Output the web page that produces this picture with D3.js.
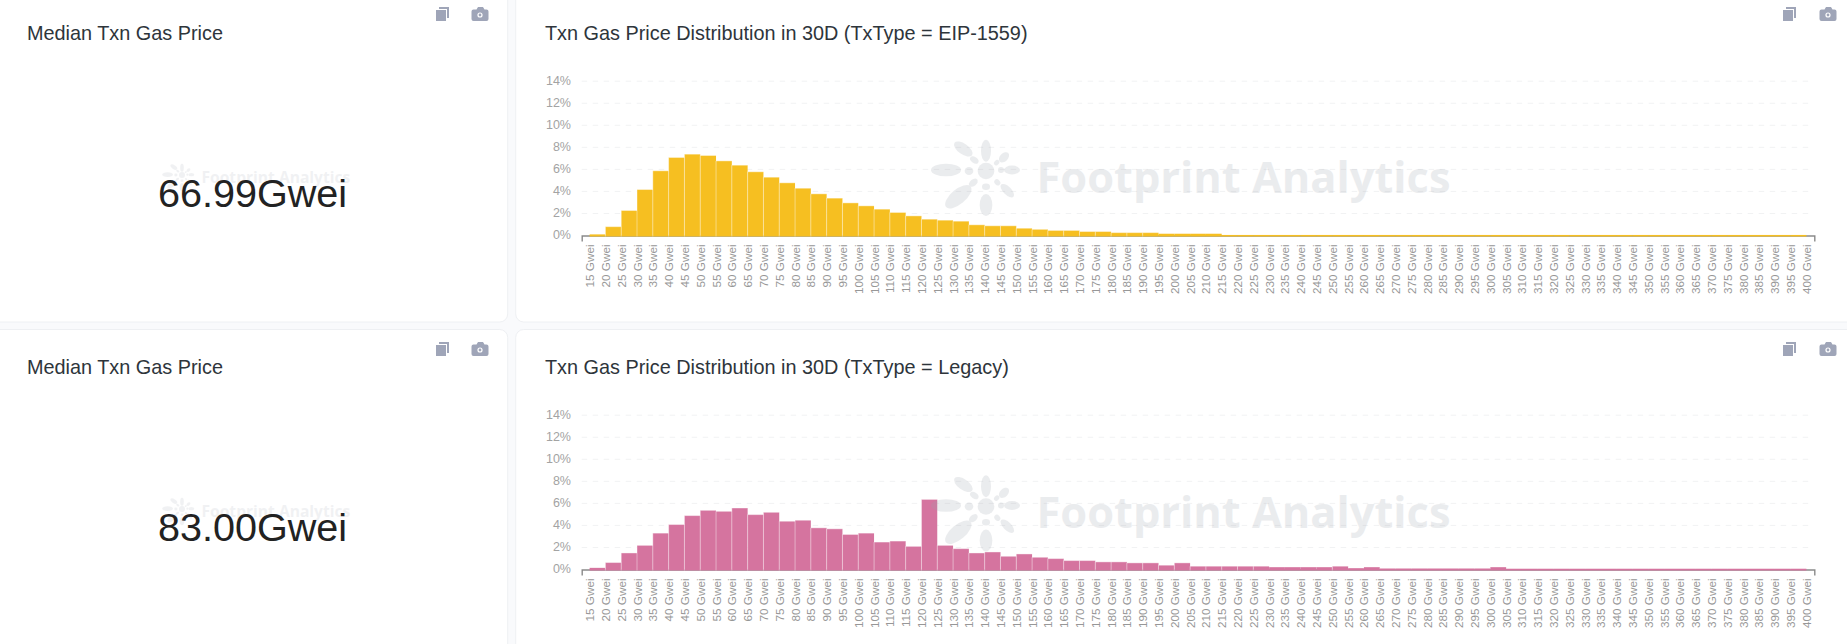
<!DOCTYPE html>
<html>
<head>
<meta charset="utf-8">
<script src="https://cdn.jsdelivr.net/npm/d3@7/dist/d3.min.js"></script>
<style>
html,body{margin:0;padding:0;background:#f9fafc;overflow:hidden}
svg{display:block}
text{font-family:"Liberation Sans",Arial,sans-serif}
</style>
</head>
<body>
<svg id="c" width="1847" height="644"></svg>
<script>
const categories = d3.range(15, 401, 5).map(v => v + " Gwei");
const yTicks = [0, 2, 4, 6, 8, 10, 12, 14];
const eipValues = [0.1,0.8,2.27,4.17,5.87,7.08,7.38,7.26,6.77,6.38,5.78,5.29,4.78,4.29,3.78,3.39,2.96,2.69,2.39,2.09,1.78,1.48,1.39,1.3,0.97,0.88,0.88,
  0.66,0.56,0.46,0.46,0.36,0.36,0.26,0.26,0.26,0.16,0.16,0.16,0.16,
  0.05,0.05,0.05,0.05,0.05,0.05,0.05,0.05,0.05,0.05,0.05,0.05,0.05,0.05,0.05,0.05,0.05,0.05,0.05,0.05,0.05,0.05,0.05,0.05,0.05,0.05,0.05,0.05,0.05,0.05,0.05,0.05,0.05,0.05,0.05,0.05,0.05];
const legacyValues = [0.15,0.63,1.5,2.19,3.3,4.08,4.89,5.37,5.28,5.58,4.98,5.19,4.38,4.47,3.78,3.69,3.18,3.3,2.49,2.58,2.1,6.36,2.19,1.89,1.5,1.59,1.2,
  1.41,1.11,0.99,0.81,0.81,0.69,0.69,0.6,0.6,0.39,0.6,0.3,0.3,0.3,0.3,0.3,0.21,0.21,0.21,0.21,0.3,0.12,0.21,0.09,
  0.09,0.09,0.09,0.09,0.09,0.09,0.21,0.07,0.07,0.07,0.07,0.07,0.07,0.07,0.07,0.07,0.07,0.07,0.07,0.07,0.07,0.07,0.07,0.07,0.07,0.07];
const rows = [
  {dy:0,  median:"66.99Gwei", title:"Txn Gas Price Distribution in 30D (TxType = EIP-1559)", values:eipValues, color:"#f6bf21"},
  {dy:334,median:"83.00Gwei", title:"Txn Gas Price Distribution in 30D (TxType = Legacy)", values:legacyValues, color:"#d5749f"}
];
const leftTitle = "Median Txn Gas Price";
const watermark = "Footprint Analytics";

const svg = d3.select("#c");
const x = d3.scaleBand().domain(categories).range([581.7, 1814.3]).padding(0);

const icon = (g, cx, y) => {
  g.append("path").attr("fill","#9fa5b8")
   .attr("d",`M${cx} ${y+3}h10v11h-10z M${cx+3} ${y}h10v11h-2v-9h-8z`);
};
const cam = (g, x0, y) => {
  g.append("path").attr("fill","#9fa5b8")
   .attr("d",`M${x0+2} ${y+2.5}h3l1.5-2.5h5l1.5 2.5h2a2 2 0 0 1 2 2v7.5a2 2 0 0 1-2 2h-13a2 2 0 0 1-2-2v-7.5a2 2 0 0 1 2-2z`);
  g.append("circle").attr("cx",x0+8.5).attr("cy",y+8).attr("r",2).attr("fill","none").attr("stroke","#fff").attr("stroke-width",1.2);
};
const petals = [
  [-40,-1,15,6.3,0],[-22.7,-22,10.7,5.3,35],[0,-20.3,5,11,0],[18,-13.7,6,4,-45],
  [26,-1,8,4.4,0],[15,-1,3,3,0],[21.3,19.7,8.7,4,45],[0,34,6.3,11,0],[-27.7,25.7,16,7.3,-40],
  [-11.7,-11,4.7,3,35],[0,-13.7,3.3,2.3,0],[10.7,-8.3,3,2.3,-45],[-17,0,4.3,4,0],[-12.7,11.7,5,3.3,-40],[0,15.7,4,3.3,0],[11.3,11.3,3.3,2.7,45],[0,0,8.3,8.3,0]
];
const drawWm = (g, cx, cy, tx, base, fs, s, op) => {
  const w = g.append("g").attr("opacity",op).attr("fill","#9ca3ac");
  const l = w.append("g").attr("transform",`translate(${cx},${cy}) scale(${s})`);
  petals.forEach(p => l.append("ellipse").attr("rx",p[2]).attr("ry",p[3])
    .attr("transform",`translate(${p[0]},${p[1]}) rotate(${p[4]})`));
  w.append("text").attr("x",tx).attr("y",base).text(watermark)
    .attr("font-size",fs).attr("font-weight",700)
    .style("font-family","'Open Sans',sans-serif");
};

rows.forEach(r => {
  const g = svg.append("g");
  const dy = r.dy;
  const top = dy === 0 ? -20 : 329.5;
  const h = dy === 0 ? 342 : 340;
  g.append("rect").attr("x",-10).attr("y",top).attr("width",517.7).attr("height",h).attr("rx",8)
    .attr("fill","#fff").attr("stroke","#eef0f3");
  g.append("rect").attr("x",515.7).attr("y",top).attr("width",1345).attr("height",h).attr("rx",8)
    .attr("fill","#fff").attr("stroke","#eef0f3");

  g.append("text").attr("x",27).attr("y",40+dy).text(leftTitle).attr("font-size",19.85).attr("fill","#2e353b");
  g.append("text").attr("x",545).attr("y",40+dy).text(r.title).attr("font-size",19.85).attr("fill","#2e353b");

  drawWm(g, 182, 175+dy, 201.5, 182.5+dy, 15.6, 0.36, 0.14);
  g.append("text").attr("x",252.5).attr("y",207+dy).attr("text-anchor","middle").text(r.median)
    .attr("font-size",39.6).attr("fill","#222");

  const y = d3.scaleLinear().domain([0,14]).range([235.5+dy, 81.2+dy]);

  g.append("g").selectAll("line").data(yTicks.filter(d=>d>0)).join("line")
    .attr("x1",581.7).attr("x2",1809).attr("y1",d=>y(d)).attr("y2",d=>y(d))
    .attr("stroke","#f1f2f3").attr("stroke-dasharray","5.5,5.5");

  const ya = g.append("g").attr("transform","translate(571,0)")
    .call(d3.axisLeft(y).tickValues(yTicks).tickFormat(d=>d+"%").tickSize(0).tickPadding(0));
  ya.select(".domain").remove();
  ya.selectAll("text").attr("font-size",12.5).attr("fill","#a3a3a3")
    .attr("dy",".24em").style("font-family","'Liberation Sans',Arial,sans-serif");

  // x axis goes under the bars
  const xa = g.append("g").attr("transform",`translate(0,${y(0)})`)
    .call(d3.axisBottom(x).tickSize(0).tickSizeOuter(6).tickPadding(0));
  xa.select(".domain").attr("stroke","#8a8a8a").attr("stroke-width",1.4).attr("fill","none");
  xa.selectAll(".tick text")
    .attr("font-size",11.7).attr("fill","#979797")
    .style("font-family","'Liberation Sans',Arial,sans-serif")
    .attr("text-anchor","end").attr("dominant-baseline","central")
    .attr("dy",0).attr("x",-9).attr("y",0)
    .attr("transform","rotate(-90)");

  // each bar starts at its label's tick, as in a histogram
  const base = y(0) + 1;
  const bars = g.append("g");
  bars.selectAll("rect.b").data(r.values).join("rect").attr("class","b")
    .attr("x",(d,i)=>x(categories[i])+x.bandwidth()/2)
    .attr("width",x.bandwidth())
    .attr("y",d=>y(d))
    .attr("height",d=>base-y(d))
    .attr("fill",r.color);
  // pale edge on the sides and top of each bar that is tall enough to show one
  bars.selectAll("path.e").data(r.values.map((v,i)=>({v,i})).filter(d=>d.v>0.25)).join("path").attr("class","e")
    .attr("d",d=>{
      const x0 = x(categories[d.i])+x.bandwidth()/2;
      return `M${x0} ${base}V${y(d.v)}H${x0+x.bandwidth()}`;
    })
    .attr("fill","none").attr("stroke","rgba(255,255,255,.4)").attr("stroke-width",1);

  drawWm(g, 986, 171+dy+(dy?1.5:0), 1036.5, 192.7+dy+(dy?1:0), 43.4, 1, 0.2);

  icon(g, 436, 7+dy+(dy?1:0)); cam(g, 471.5, 7+dy+(dy?1:0));
  icon(g, 1783, 7+dy+(dy?1:0)); cam(g, 1819.5, 7+dy+(dy?1:0));
});
</script>
</body>
</html>
